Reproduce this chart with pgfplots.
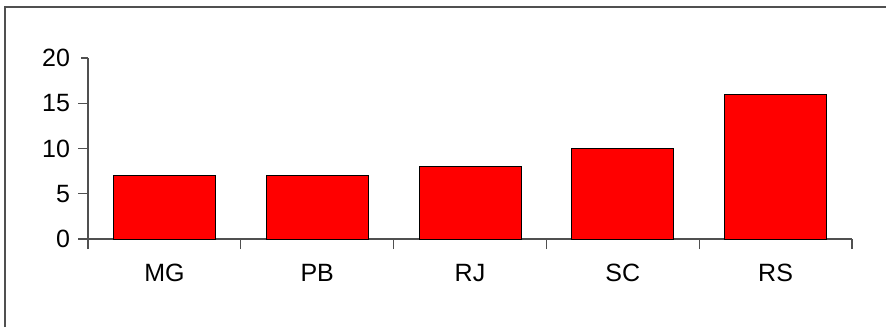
\documentclass[border=0pt]{standalone}
\usepackage{fontspec}
\setmainfont{Liberation Sans}
\usepackage{pgfplots}
\pgfplotsset{compat=1.18}
\definecolor{axisgray}{HTML}{505050}
\begin{document}
\begin{tikzpicture}
\useasboundingbox (0,0) rectangle (443pt,163.5pt);
% chart frame
\draw[axisgray, line width=0.7pt] (2.5pt,0) -- (2.5pt,160pt) -- (443pt,160pt);
\begin{axis}[
  at={(44pt,44pt)}, anchor=south west,
  scale only axis, width=382pt, height=90.5pt,
  axis x line=bottom, axis y line=left,
  axis line style={axisgray, line width=0.6pt, -},
  xmin=-0.5, xmax=4.5, ymin=0, ymax=20,
  % tick marks between the categories, names centred under the bars
  xtick={-0.5,0.5,1.5,2.5,3.5,4.5},
  xticklabels={},
  extra x ticks={0,1,2,3,4},
  extra x tick labels={MG,PB,RJ,SC,RS},
  extra x tick style={tick style={draw=none}},
  xtick align=center,
  xtick style={axisgray, line width=0.6pt},
  ytick={0,5,10,15,20},
  ytick align=outside,
  major tick length=5pt,
  ytick style={axisgray, line width=0.6pt, shorten <=1.5pt},
  tick label style={font=\fontsize{12.5}{14}\selectfont, text=black},
  /pgf/number format/assume math mode=true,
  xticklabel style={yshift=-4pt},
  yticklabel style={xshift=-0.5pt},
  ybar, bar width=51pt,
]
\addplot[fill=red, draw=black, line width=0.5pt] coordinates {(0,7) (1,7) (2,8) (3,10) (4,16)};
\end{axis}
\end{tikzpicture}
\end{document}
